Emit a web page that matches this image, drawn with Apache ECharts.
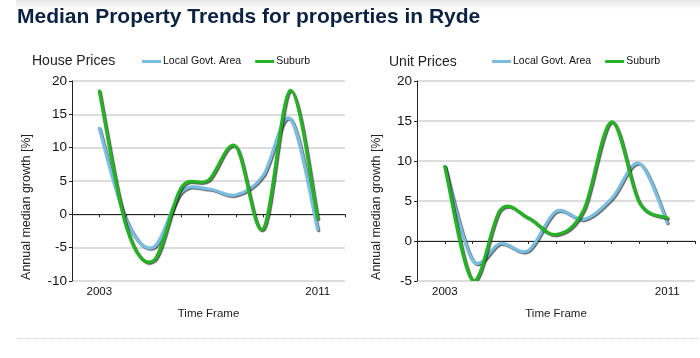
<!DOCTYPE html>
<html>
<head>
<meta charset="utf-8">
<script src="https://cdn.jsdelivr.net/npm/echarts@6/dist/echarts.min.js"></script>
<style>
html,body{margin:0;padding:0;background:#fff;}
#chart{width:700px;height:358px;}
</style>
</head>
<body>
<div id="chart"></div>
<script>
const years = [2003, 2004, 2005, 2006, 2007, 2008, 2009, 2010, 2011];
const xTickLabels = [2003, 2011];
const houseLGA = [12.9, -1.0, -4.9, 3.3, 3.8, 2.9, 5.8, 14.3, -2.3];
const houseSuburb = [18.5, -2.0, -6.9, 4.0, 5.1, 10.2, -2.2, 18.6, -0.6];
const unitLGA = [9.3, -2.4, -0.3, -1.2, 3.7, 2.7, 5.3, 9.7, 2.3];
const unitSuburb = [9.3, -4.9, 3.9, 2.9, 0.8, 3.9, 14.9, 4.8, 2.9];
const seriesNames = ['Local Govt. Area', 'Suburb'];

const BLUE = '#79bde0';
const GREEN = '#23b323';
const FONT = 'Liberation Sans, Arial, sans-serif';
const TENSION = 0.5; // cardinal spline tension

function pairs(vals) { return years.map((y, i) => [y, vals[i]]); }

function xAxis(gridIndex) {
  return {
    type: 'value', gridIndex, min: 2002, max: 2012, interval: 1,
    name: 'Time Frame', nameLocation: 'middle', nameGap: 27,
    nameTextStyle: { fontFamily: FONT, fontSize: 11.5, color: '#222' },
    axisLine: { show: true, lineStyle: { color: '#222', width: 1 } },
    axisTick: { show: true, length: 3, lineStyle: { color: '#222' } },
    axisLabel: {
      fontFamily: FONT, fontSize: 11.5, color: '#111', margin: 5,
      formatter: v => xTickLabels.includes(v) ? String(v) : ''
    },
    splitLine: { show: false }
  };
}
function yAxis(gridIndex, min) {
  return {
    type: 'value', gridIndex, min, max: 20, interval: 5,
    axisLine: { show: true, lineStyle: { color: '#222', width: 1 } },
    axisTick: { show: true, length: 3, lineStyle: { color: '#222' } },
    axisLabel: { fontFamily: FONT, fontSize: 13.5, color: '#111', margin: 5 },
    splitLine: { show: true, lineStyle: { color: '#d2d2d2', width: 1.5 } }
  };
}

// Cardinal spline drawn through points projected by the axes (api.coord)
function splineRender(color) {
  return function (params, api) {
    if (params.dataIndexInside !== 0) return;
    const n = params.dataInsideLength;
    const p = [];
    for (let i = 0; i < n; i++) p.push(api.coord([api.value(0, i), api.value(1, i)]));
    const f = TENSION / 3;
    let d = 'M' + p[0][0] + ' ' + p[0][1];
    for (let i = 0; i < n - 1; i++) {
      const p0 = p[Math.max(i - 1, 0)], p1 = p[i], p2 = p[i + 1], p3 = p[Math.min(i + 2, n - 1)];
      const c1x = p1[0] + (p2[0] - p0[0]) * f, c1y = p1[1] + (p2[1] - p0[1]) * f;
      const c2x = p2[0] - (p3[0] - p1[0]) * f, c2y = p2[1] - (p3[1] - p1[1]) * f;
      d += ' C' + c1x + ' ' + c1y + ' ' + c2x + ' ' + c2y + ' ' + p2[0] + ' ' + p2[1];
    }
    const cs = params.coordSys;
    return {
      type: 'group',
      clipPath: { type: 'rect', shape: { x: cs.x, y: cs.y - 2, width: cs.width, height: cs.height + 2 } },
      children: [{
        type: 'path',
        shape: { pathData: d },
        style: { fill: null, stroke: color, lineWidth: 3.2, lineJoin: 'round', lineCap: 'round',
                 shadowColor: 'rgba(0,0,0,0.65)', shadowBlur: 1, shadowOffsetX: 1, shadowOffsetY: 1 }
      }]
    };
  };
}
function line(name, data, color, idx) {
  return {
    name, type: 'custom', xAxisIndex: idx, yAxisIndex: idx,
    data: pairs(data), renderItem: splineRender(color),
    itemStyle: { color }, encode: { x: 0, y: 1 },
    z: name === 'Suburb' ? 3 : 2
  };
}
function legend(left, names) {
  return {
    left, top: 56, padding: 0, icon: 'rect', itemWidth: 19, itemHeight: 3, itemGap: 14,
    textStyle: { fontFamily: FONT, fontSize: 10.5, color: '#111', padding: [0, 0, 0, -3] },
    data: names, selectedMode: false
  };
}

const chart = echarts.init(document.getElementById('chart'), null, { renderer: 'canvas' });
chart.setOption({
  animation: false,
  backgroundColor: '#fff',
  color: [BLUE, GREEN],
  grid: [
    { left: 72, right: 355, top: 81, bottom: 77 },
    { left: 417, right: 5, top: 81, bottom: 77 }
  ],
  xAxis: [xAxis(0), xAxis(1)],
  yAxis: [yAxis(0, -10), yAxis(1, -5)],
  legend: [legend(142, seriesNames), legend(492, seriesNames)],
  series: [
    line(seriesNames[0], houseLGA, BLUE, 0),
    line(seriesNames[1], houseSuburb, GREEN, 0),
    line(seriesNames[0], unitLGA, BLUE, 1),
    line(seriesNames[1], unitSuburb, GREEN, 1)
  ],
  graphic: [
    { type: 'rect', left: 16, top: 0, shape: { width: 684, height: 10 },
      style: { fill: new echarts.graphic.LinearGradient(0, 0, 0, 1, [{ offset: 0, color: '#e6e6e6' }, { offset: 1, color: '#ffffff' }]) }, z: -1 },
    { type: 'text', left: 17, top: 7, style: { text: 'Median Property Trends for properties in Ryde', font: 'bold 21px ' + FONT, fill: '#0b2141' } },
    { type: 'text', left: 32, top: 54, style: { text: 'House Prices', font: '14px ' + FONT, fill: '#222' } },
    { type: 'text', left: 389, top: 55, style: { text: 'Unit Prices', font: '14px ' + FONT, fill: '#222' } },
    { type: 'text', x: 27, y: 207, rotation: Math.PI / 2, style: { text: 'Annual median growth [%]', font: '12.5px ' + FONT, fill: '#222', align: 'center', verticalAlign: 'middle' } },
    { type: 'text', x: 377, y: 207, rotation: Math.PI / 2, style: { text: 'Annual median growth [%]', font: '12.5px ' + FONT, fill: '#222', align: 'center', verticalAlign: 'middle' } },
    { type: 'line', shape: { x1: 16, y1: 338.5, x2: 700, y2: 338.5 }, style: { stroke: '#cfcfcf', lineWidth: 1, lineDash: [1, 1] } }
  ]
});
</script>
</body>
</html>
